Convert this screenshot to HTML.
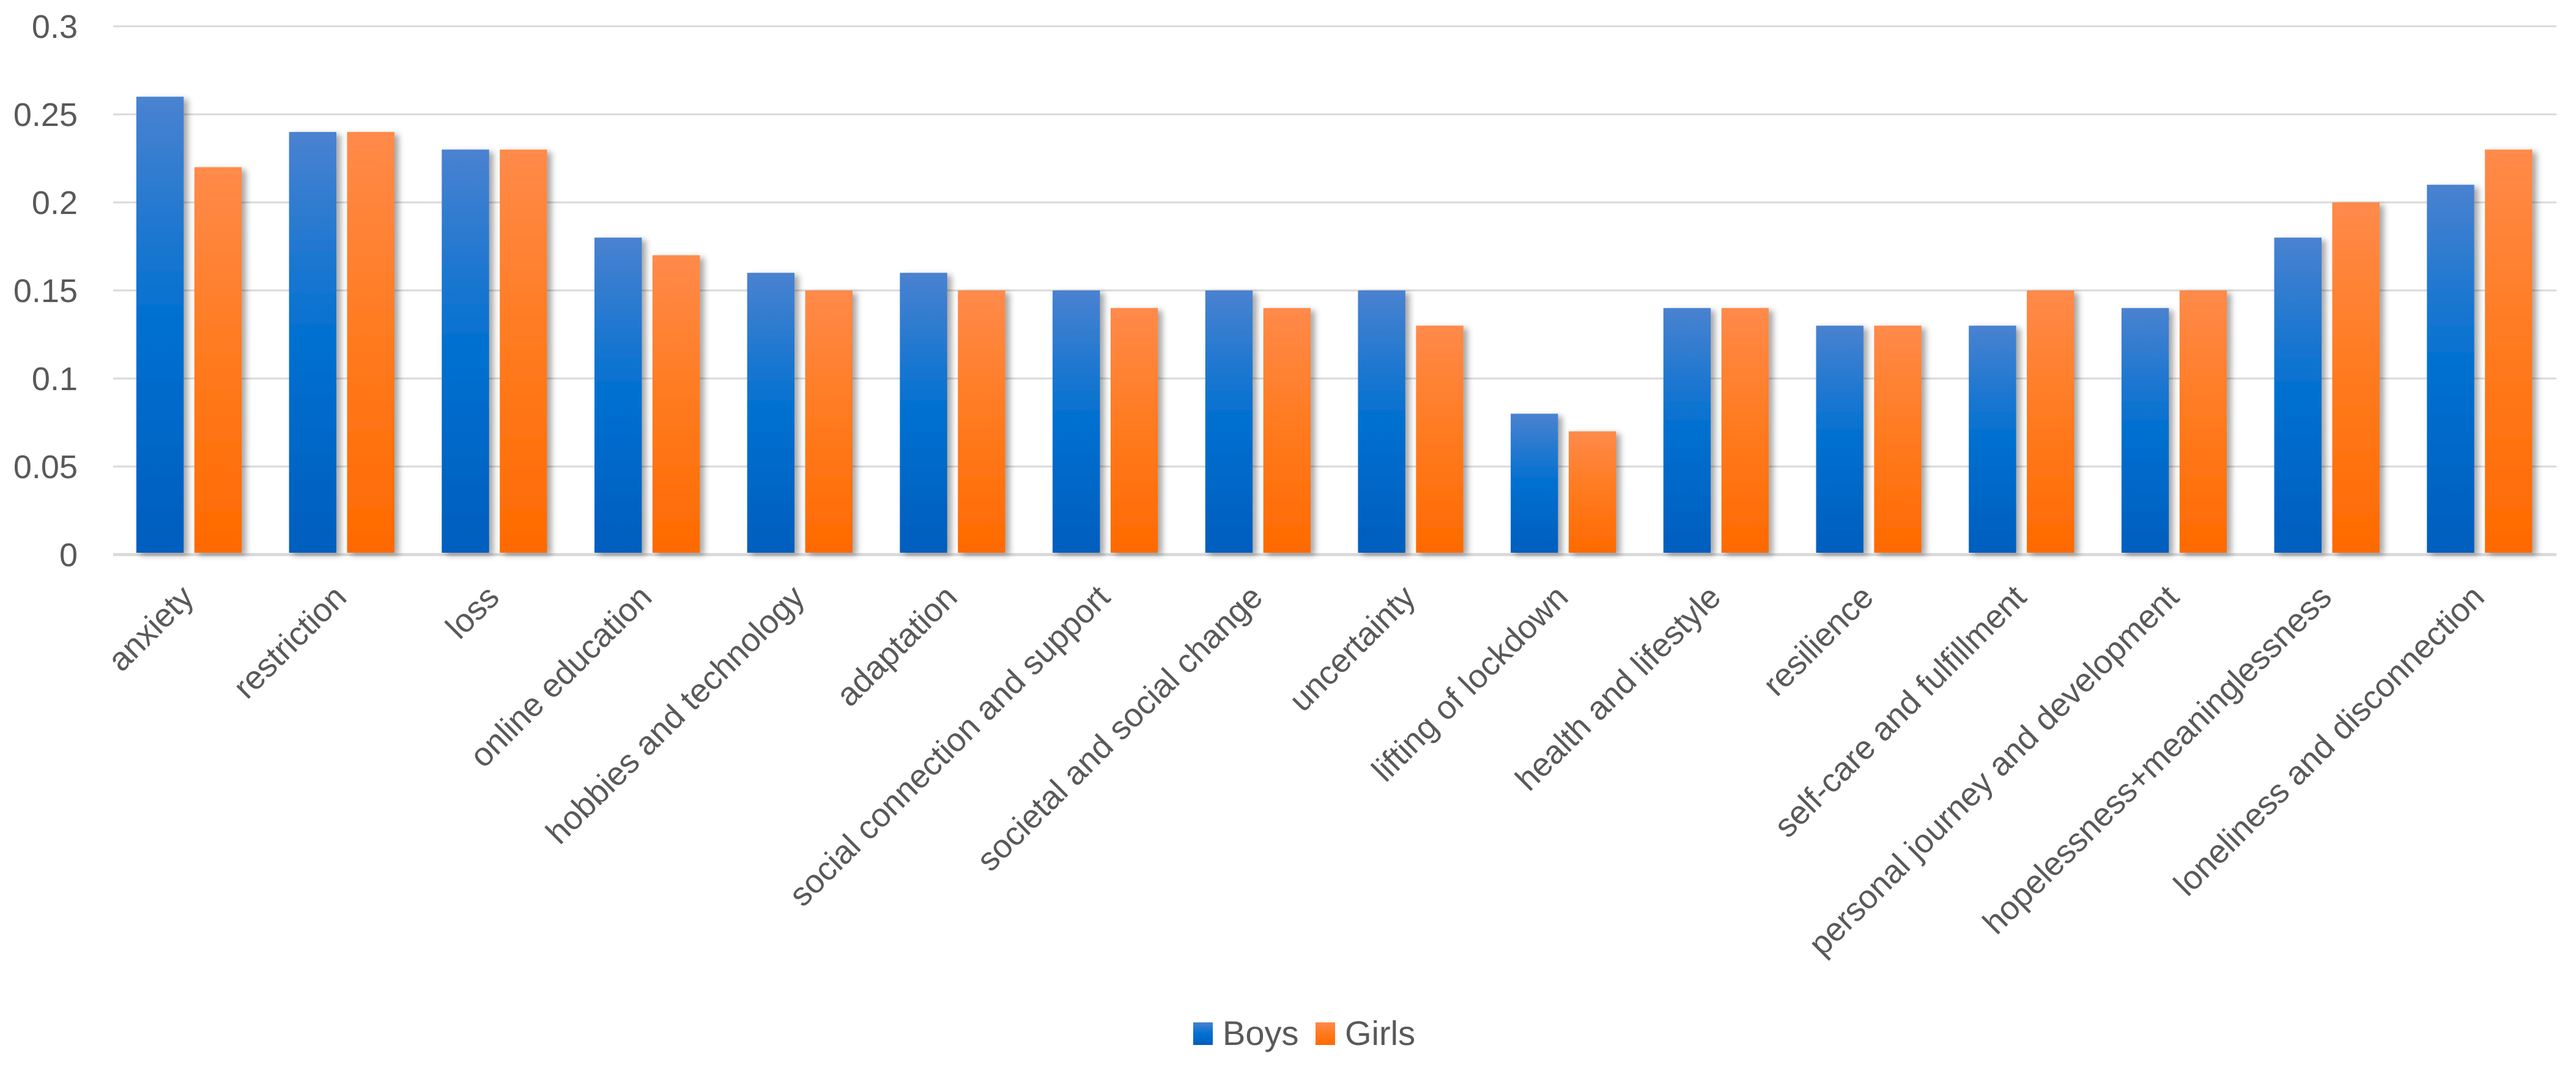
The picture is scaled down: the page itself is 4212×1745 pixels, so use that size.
<!DOCTYPE html>
<html><head><meta charset="utf-8"><style>
html,body{margin:0;padding:0;background:#fff;}
svg{display:block;font-family:"Liberation Sans",Arial,sans-serif;}
</style></head><body>
<svg id="chart" width="4212" height="1745" viewBox="0 0 4212 1745">
<defs>
<linearGradient id="gBlue" x1="0" y1="0" x2="0" y2="1">
<stop offset="0" stop-color="#4a82d0"/><stop offset="0.5" stop-color="#0070d0"/><stop offset="1" stop-color="#005ebe"/></linearGradient>
<linearGradient id="gOrange" x1="0" y1="0" x2="0" y2="1">
<stop offset="0" stop-color="#ff8a4a"/><stop offset="0.5" stop-color="#ff7a1e"/><stop offset="1" stop-color="#ff6a00"/></linearGradient>
<filter id="shadow" x="-20%" y="-5%" width="150%" height="110%"><feDropShadow dx="7" dy="4" stdDeviation="5" flood-color="#000" flood-opacity="0.35"/></filter>
</defs>
<g id="grid"></g><g id="bars"></g><g id="ylabels"></g><g id="xlabels"></g>
<g id="legend">
<rect x="1951" y="1672" width="32" height="37" fill="url(#gBlue)"/>
<text x="1999" y="1709" font-size="56" fill="#595959">Boys</text>
<rect x="2151" y="1672" width="32" height="37" fill="url(#gOrange)"/>
<text x="2199" y="1709" font-size="56" fill="#595959">Girls</text>
</g>
</svg>
<script>
const categories=["anxiety","restriction","loss","online education","hobbies and technology","adaptation","social connection and support","societal and social change","uncertainty","lifting of lockdown","health and lifestyle","resilience","self-care and fulfillment","personal journey and development","hopelessness+meaninglessness","loneliness and disconnection"];
const boys=[0.26,0.24,0.23,0.18,0.16,0.16,0.15,0.15,0.15,0.08,0.14,0.13,0.13,0.14,0.18,0.21];
const girls=[0.22,0.24,0.23,0.17,0.15,0.15,0.14,0.14,0.13,0.07,0.14,0.13,0.15,0.15,0.20,0.23];
const yTicks=[0,0.05,0.1,0.15,0.2,0.25,0.3];
const yTickLabels=["0","0.05","0.1","0.15","0.2","0.25","0.3"];

const NS="http://www.w3.org/2000/svg";
const L=185,R=4180,Y0=907,Y1=43,VMAX=0.3;
const band=(R-L)/categories.length;
function y(v){return Y0-(v/VMAX)*(Y0-Y1);}
function xb(i){return L+i*band;}
function mk(tag,attrs,parent){const e=document.createElementNS(NS,tag);for(const k in attrs)e.setAttribute(k,attrs[k]);parent.appendChild(e);return e;}
const grid=document.getElementById('grid'),bars=document.getElementById('bars'),yl=document.getElementById('ylabels'),xl=document.getElementById('xlabels');
yTicks.forEach((t,i)=>{
 const ln=mk('line',{x1:L,x2:R,y1:y(t),y2:y(t),stroke:'#d9d9d9','stroke-width':i===0?5:3},grid);
 
 
 const tx=mk('text',{x:127,y:y(t)+19,'text-anchor':'end','font-size':54,fill:'#595959'},yl);
 tx.textContent=yTickLabels[i];
 
 
});
const bw=0.31*band;
categories.forEach((c,i)=>{
 const b=mk('rect',{x:xb(i)+0.152*band,y:y(boys[i]),width:bw,height:Y0-3-y(boys[i]),fill:'url(#gBlue)',filter:'url(#shadow)'},bars);
 
 
 const g=mk('rect',{x:xb(i)+0.532*band,y:y(girls[i]),width:bw,height:Y0-3-y(girls[i]),fill:'url(#gOrange)',filter:'url(#shadow)'},bars);
 
 
 const cx=xb(i)+band/2+10, cy=980;
 const t=mk('text',{x:cx,y:cy,'text-anchor':'end','font-size':54,fill:'#595959',transform:`rotate(-45 ${cx} ${cy})`},xl);
 t.textContent=c;
 
 
});
</script>
</body></html>
